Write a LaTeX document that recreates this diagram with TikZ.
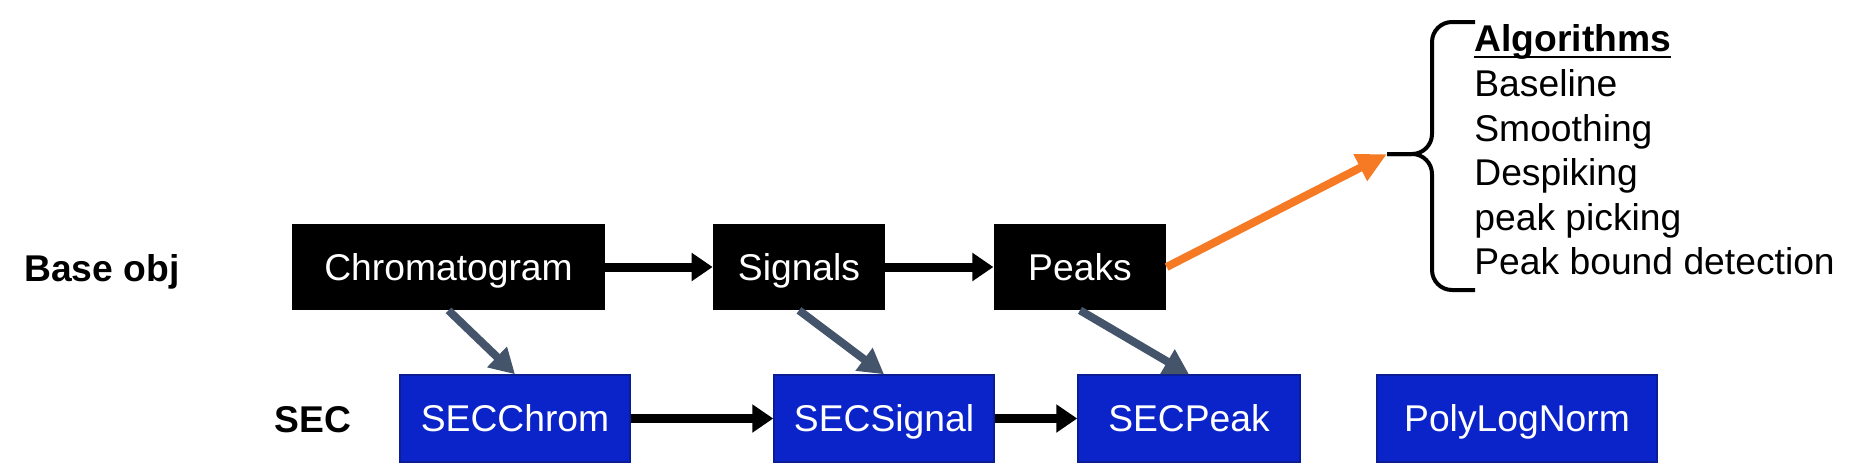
\documentclass[tikz,border=0pt]{standalone}
\usepackage{amsmath}
\usepackage{fontspec}
\setmainfont{Liberation Sans}
\usepackage{tikz}
\usetikzlibrary{arrows.meta}

\definecolor{secblue}{RGB}{11,36,201}
\definecolor{secedge}{RGB}{10,28,150}
\definecolor{slatearrow}{RGB}{68,84,106}
\definecolor{algorange}{RGB}{246,122,36}

\begin{document}
\begin{tikzpicture}[x=0.2mm, y=-0.2mm,
    every node/.style={font=\fontsize{21.2pt}{25.4pt}\selectfont},
    rowlabel/.style={anchor=west, inner sep=0pt, text height=15.2pt, text depth=0pt, font=\fontsize{21.2pt}{25.4pt}\selectfont\bfseries},
    baseobj/.style={rectangle, fill=black, text=white, minimum height=17.2mm, inner sep=0pt, text height=15.2pt, text depth=0pt},
    secobj/.style={rectangle, fill=secblue, draw=secedge, line width=0.3mm, text=white, minimum height=17.4mm, inner sep=0pt, text height=15.2pt, text depth=0pt},
    flow/.style={-{Triangle[length=4.2mm, width=5.4mm]}, line width=1.8mm, black},
    derive/.style={-{Triangle[length=5mm, width=5.4mm]}, line width=1.6mm, slatearrow},
    bracket/.style={line width=0.8mm, rounded corners=4mm},
]
\useasboundingbox (0,0) rectangle (1860,465);

% row labels
\node[rowlabel] (baselabel) at (24,268) {Base obj};
\node[rowlabel] (seclabel) at (274,419) {SEC};

% base objects
\node[baseobj, minimum width=62.6mm] (chrom) at (448.5,267) {Chromatogram};
\node[baseobj, minimum width=34.4mm] (signals) at (799,267) {Signals};
\node[baseobj, minimum width=34.5mm] (peaks) at (1080,267) {Peaks};

% SEC objects
\node[secobj, minimum width=46mm] (secchrom) at (515,418.5) {SECChrom};
\node[secobj, minimum width=44mm] (secsignal) at (884,418.5) {SECSignal};
\node[secobj, minimum width=44.4mm] (secpeak) at (1189,418.5) {SECPeak};
\node[secobj, minimum width=56mm] (polylog) at (1517,418.5) {PolyLogNorm};

\draw[flow] (chrom.east) -- (signals.west);
\draw[flow] (signals.east) -- (peaks.west);
\draw[flow] (secchrom.east) -- (secsignal.west);
\draw[flow] (secsignal.east) -- (secpeak.west);

\draw[derive] (chrom.south) -- (secchrom.north);
\draw[derive] (signals.south) -- (secsignal.north);
\draw[derive] (peaks.south) -- (secpeak.north);

% algorithms brace
\coordinate (bracetip) at (1387,154);
\draw[bracket] (1475,22) -| (1432,154) -- (bracetip);
\draw[bracket] (bracetip) -- (1432,154) |- (1475,290);
\draw[-{Triangle[length=6mm, width=5.6mm]}, line width=1.6mm, algorange] (peaks.east) -- (bracetip);

\node[anchor=west, align=left, inner sep=0pt] (alglist) at (1474,150) {\underline{\smash[b]{\textbf{Algorithms}}}\\Baseline\\Smoothing\\Despiking\\peak picking\\Peak bound detection};
\end{tikzpicture}
\end{document}
